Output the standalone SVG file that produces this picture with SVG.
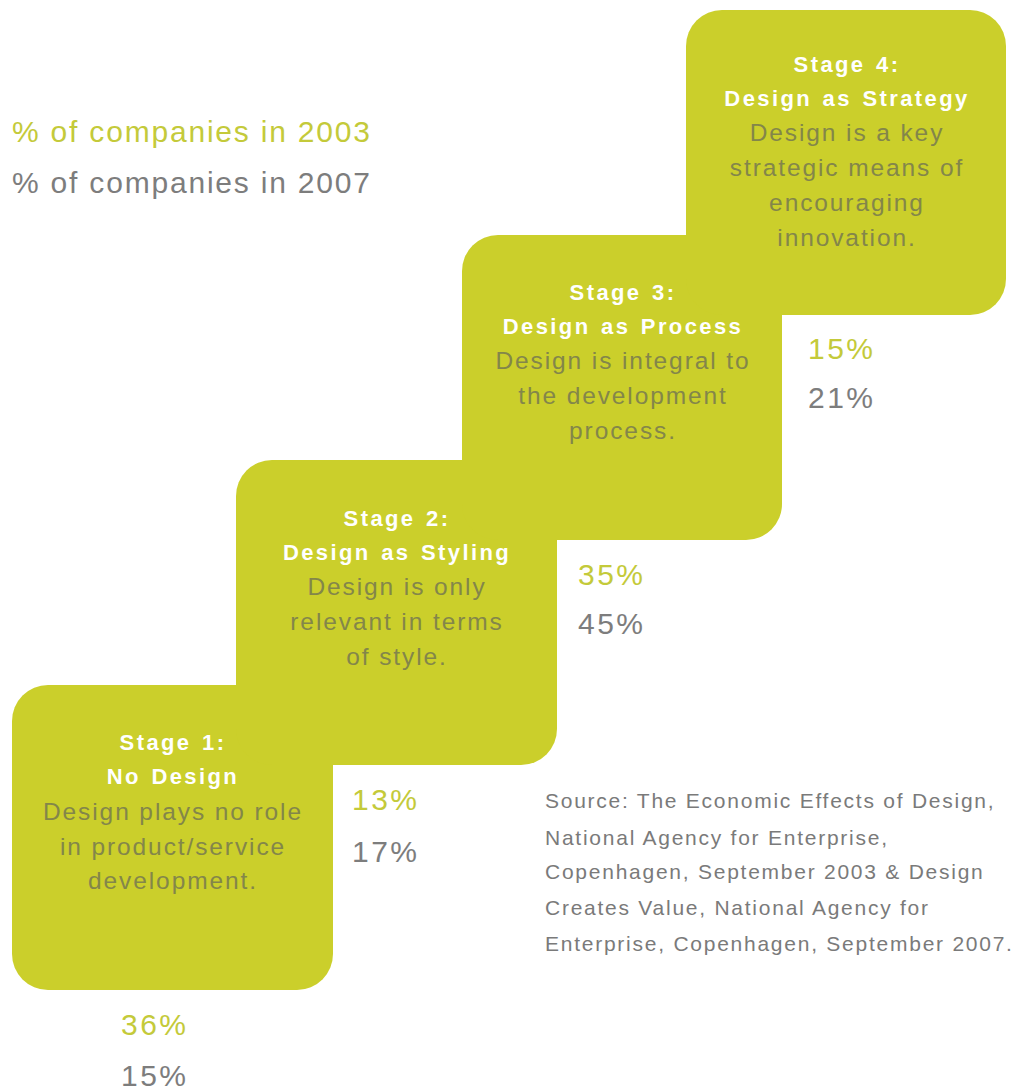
<svg xmlns="http://www.w3.org/2000/svg" width="1020" height="1090" viewBox="0 0 1020 1090">
<style>
.box{fill:#cbcf2b}
.t{font-family:"Liberation Sans",Arial,sans-serif;font-weight:bold;font-size:22px;fill:#ffffff;text-anchor:middle;letter-spacing:2.4px;word-spacing:2px}
.b{font-family:"Liberation Sans",Arial,sans-serif;font-size:24.5px;fill:#83864a;text-anchor:middle;letter-spacing:1.9px}
.p3{font-family:"Liberation Sans",Arial,sans-serif;font-size:30px;fill:#c4ca3a;letter-spacing:2.5px}
.p7{font-family:"Liberation Sans",Arial,sans-serif;font-size:30px;fill:#7d7d7d;letter-spacing:2.5px}
.lg{font-size:30px;letter-spacing:1.8px}
.src{font-family:"Liberation Sans",Arial,sans-serif;font-size:21px;fill:#7a7a7a;letter-spacing:1.75px}
</style>
<rect width="1020" height="1090" fill="#ffffff"/>
<g id="legend">
<text class="p3 lg" x="12" y="142">% of companies in 2003</text>
<text class="p7 lg" x="12" y="193">% of companies in 2007</text>
</g>
<g id="stage1">
<rect class="box" x="12" y="685" width="321" height="305" rx="36"/>
</g>
<g id="stage2">
<rect class="box" x="236" y="460" width="321" height="305" rx="36"/>
</g>
<g id="stage3">
<rect class="box" x="462" y="235" width="320" height="305" rx="36"/>
</g>
<g id="stage4">
<rect class="box" x="686" y="10" width="320" height="305" rx="36"/>
</g>
<g id="labels">
<text class="t" x="173" y="750">Stage 1:</text>
<text class="t" x="173" y="784">No Design</text>
<text class="b" x="173" y="820">Design plays no role</text>
<text class="b" x="173" y="855">in product/service</text>
<text class="b" x="173" y="889">development.</text>
<text class="t" x="397" y="526">Stage 2:</text>
<text class="t" x="397" y="560">Design as Styling</text>
<text class="b" x="397" y="595">Design is only</text>
<text class="b" x="397" y="630">relevant in terms</text>
<text class="b" x="397" y="665">of style.</text>
<text class="t" x="623" y="300">Stage 3:</text>
<text class="t" x="623" y="334">Design as Process</text>
<text class="b" x="623" y="369">Design is integral to</text>
<text class="b" x="623" y="404">the development</text>
<text class="b" x="623" y="439">process.</text>
<text class="t" x="847" y="72">Stage 4:</text>
<text class="t" x="847" y="106">Design as Strategy</text>
<text class="b" x="847" y="141">Design is a key</text>
<text class="b" x="847" y="176">strategic means of</text>
<text class="b" x="847" y="211">encouraging</text>
<text class="b" x="847" y="246">innovation.</text>
</g>
<g id="percents">
<text class="p3" x="121" y="1035">36%</text>
<text class="p7" x="121" y="1086">15%</text>
<text class="p3" x="352" y="810">13%</text>
<text class="p7" x="352" y="862">17%</text>
<text class="p3" x="578" y="585">35%</text>
<text class="p7" x="578" y="634">45%</text>
<text class="p3" x="808" y="359">15%</text>
<text class="p7" x="808" y="408">21%</text>
</g>
<g id="source">
<text class="src" x="545" y="808">Source: The Economic Effects of Design,</text>
<text class="src" x="545" y="845">National Agency for Enterprise,</text>
<text class="src" x="545" y="879">Copenhagen, September 2003 &amp; Design</text>
<text class="src" x="545" y="915">Creates Value, National Agency for</text>
<text class="src" x="545" y="951">Enterprise, Copenhagen, September 2007.</text>
</g>
</svg>
